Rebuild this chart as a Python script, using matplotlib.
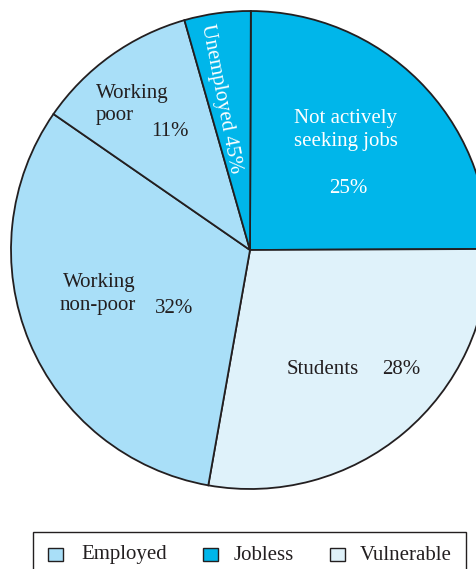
import matplotlib
matplotlib.use("Agg")
import matplotlib.pyplot as plt
from matplotlib.patches import Rectangle

# ---- data ----
categories = ["Not actively seeking jobs", "Students", "Working non-poor", "Working poor", "Unemployed"]
shares = [25, 28, 32, 11, 4.5]
groups = ["Jobless", "Vulnerable", "Employed", "Employed", "Jobless"]
slice_labels = ["Not actively\nseeking jobs", "Students", "Working\nnon-poor", "Working\npoor", "Unemployed"]
pct_labels = ["25%", "28%", "32%", "11%", "45%"]
legend_groups = ["Employed", "Jobless", "Vulnerable"]

colors = {"Employed": "#a9dff8", "Jobless": "#00b6ea", "Vulnerable": "#dff2fa"}
edge = "#231f20"
txt = "#231f20"

plt.rcParams['font.family'] = ['Liberation Serif', 'DejaVu Serif']

W, H = 477, 569
fig = plt.figure(figsize=(W / 100, H / 100), dpi=100)
ax = fig.add_axes([0, 0, 1, 1])

def Y(y):
    return H - y

cx, cy, r = 250, 250, 239
ax.pie(shares, colors=[colors[g] for g in groups], startangle=89.8, counterclock=False,
       center=(cx, Y(cy)), radius=r, normalize=True,
       wedgeprops=dict(edgecolor=edge, linewidth=1.3, antialiased=True))
ax.set_xlim(0, W)
ax.set_ylim(0, H)
ax.set_aspect('auto')
ax.axis('off')

fs = 15
ls = 1.35
# Not actively seeking jobs
ax.text(346, Y(130), slice_labels[0], ha='center', va='center', fontsize=fs, color='white', linespacing=ls)
ax.text(348, Y(188), pct_labels[0], ha='center', va='center', fontsize=fs, color='white')
# Students
ax.text(323, Y(369), slice_labels[1], ha='center', va='center', fontsize=fs, color=txt)
ax.text(401, Y(369), pct_labels[1], ha='center', va='center', fontsize=fs, color=txt)
# Working non-poor
ax.text(136, Y(294), slice_labels[2], ha='right', va='center', fontsize=fs, color=txt, linespacing=ls)
ax.text(174, Y(308), pct_labels[2], ha='center', va='center', fontsize=fs, color=txt)
# Working poor (lines placed separately)
wp_lines = slice_labels[3].split("\n")
ax.text(96, Y(93), wp_lines[0], ha='left', va='center', fontsize=fs, color=txt)
ax.text(96, Y(115), wp_lines[1], ha='left', va='center', fontsize=fs, color=txt)
ax.text(170, Y(131), pct_labels[3], ha='center', va='center', fontsize=fs, color=txt)
# Unemployed (rotated)
ax.text(221, Y(99), slice_labels[4] + " " + pct_labels[4], ha='center', va='center', fontsize=fs,
        color='white', rotation=-79, rotation_mode='anchor')

# legend box (cut off at the bottom)
ax.add_patch(Rectangle((33, Y(600)), 433, 600 - 532, facecolor='white', edgecolor=edge,
                       linewidth=1.0, clip_on=True))
sq_x = [48, 203, 330]
tx_x = [81, 234, 360]
for g, sx, tx in zip(legend_groups, sq_x, tx_x):
    ax.add_patch(Rectangle((sx, Y(561)), 15, 13, facecolor=colors[g], edgecolor=edge, linewidth=1.0))
    ax.text(tx, Y(555), g, ha='left', va='center', fontsize=fs, color=txt)

fig.savefig("out.png", dpi=100)
